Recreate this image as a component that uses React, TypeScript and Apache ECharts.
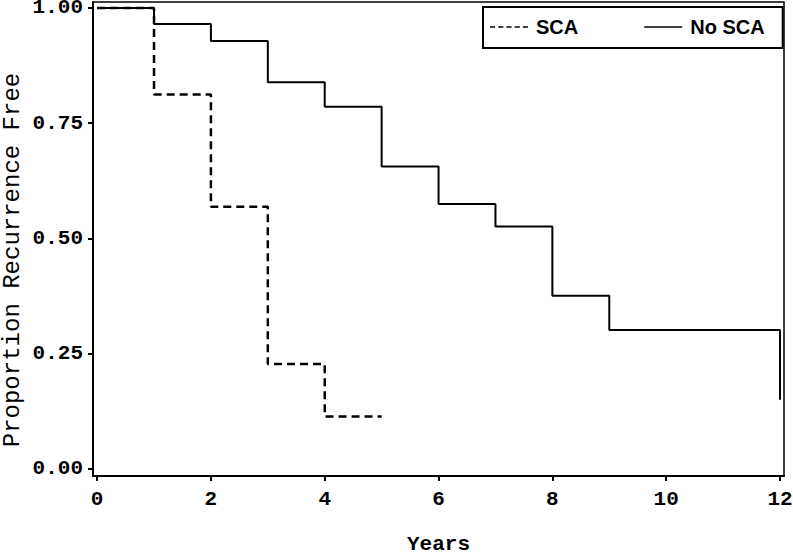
import React, { useEffect, useRef } from "react";
import * as echarts from "echarts";

const scaYears = [0, 1, 2, 3, 4, 5];
const scaValues = [1.0, 0.8125, 0.56875, 0.2275, 0.11375, 0.11375];
const noScaYears = [0, 1, 2, 3, 4, 5, 6, 7, 8, 9, 12];
const noScaValues = [1.0, 0.9655, 0.9286, 0.839, 0.786, 0.656, 0.575, 0.526, 0.376, 0.3015, 0.15];
const xTicks = [0, 2, 4, 6, 8, 10, 12];
const yTicks = [0, 0.25, 0.5, 0.75, 1.0];
const yTitle = "Proportion Recurrence Free";

const dashedIcon =
  "path://M0 0H5V1H0Z M8 0H13V1H8Z M16 0H21V1H16Z M24 0H29V1H24Z M32 0H37V1H32Z";
const solidIcon = "path://M0 0H38V1H0Z";

export default function App() {
  const ref = useRef<HTMLDivElement>(null);
  useEffect(() => {
    if (!ref.current) return;
    const chart = echarts.init(ref.current, null, { renderer: "svg" });
    const mono = "'Liberation Mono', 'DejaVu Sans Mono', monospace";
    const sans = "'Liberation Sans', Arial, sans-serif";
    chart.setOption({
      animation: false,
      backgroundColor: "#ffffff",
      grid: {
        left: 93,
        right: 9,
        top: 2,
        bottom: 79,
        containLabel: false,
        outerBoundsMode: "none",
        show: true,
        borderColor: "#000",
        borderWidth: 1.5,
        backgroundColor: "transparent",
      },
      graphic: [
        {
          type: "text",
          x: 12,
          y: 260,
          rotation: Math.PI / 2,
          style: {
            text: yTitle,
            fontFamily: mono,
            fontSize: 24,
            fill: "#000",
            align: "center",
            verticalAlign: "middle",
          },
        },
      ],
      legend: {
        left: 483,
        top: 7,
        orient: "horizontal",
        padding: [10, 18, 11, 7],
        itemGap: 66,
        itemWidth: 38,
        itemHeight: 1.5,
        symbolKeepAspect: false,
        borderColor: "#000",
        borderWidth: 2,
        backgroundColor: "#fff",
        itemStyle: { color: "#000" },
        textStyle: {
          fontFamily: sans,
          fontWeight: "bold",
          fontSize: 20,
          color: "#000",
          padding: [0, 0, 0, 3],
        },
        data: [
          { name: "SCA", icon: dashedIcon },
          { name: "No SCA", icon: solidIcon },
        ],
      },
      xAxis: {
        type: "value",
        min: -0.072,
        max: 12.07,
        name: "Years",
        nameLocation: "middle",
        nameGap: 60,
        nameTextStyle: {
          fontFamily: mono,
          fontWeight: "bold",
          fontSize: 21,
          lineHeight: 16,
          color: "#000",
        },
        axisLine: { show: true, onZero: false, lineStyle: { color: "#000", width: 2 } },
        axisTick: { show: true, customValues: xTicks, length: 5, lineStyle: { color: "#000", width: 2 } },
        axisLabel: {
          customValues: xTicks,
          margin: 13,
          fontFamily: mono,
          fontWeight: "bold",
          fontSize: 21,
          color: "#000",
          formatter: (v: number) => String(v),
        },
        splitLine: { show: false },
      },
      yAxis: {
        type: "value",
        min: -0.0152,
        max: 1.013,
        axisLine: { show: true, onZero: false, lineStyle: { color: "#000", width: 2 } },
        axisTick: { show: true, customValues: yTicks, length: 5, lineStyle: { color: "#000", width: 2 } },
        axisLabel: {
          customValues: yTicks,
          margin: 10,
          fontFamily: mono,
          fontWeight: "bold",
          fontSize: 21,
          lineHeight: 14,
          color: "#000",
          formatter: (v: number) => v.toFixed(2),
        },
        splitLine: { show: false },
      },
      series: [
        {
          name: "SCA",
          type: "line",
          step: "end",
          symbol: "none",
          showSymbol: false,
          lineStyle: { color: "#000", width: 2.5, type: [8, 5] },
          itemStyle: { color: "#000" },
          data: scaYears.map((x, i) => [x, scaValues[i]]),
        },
        {
          name: "No SCA",
          type: "line",
          step: "end",
          symbol: "none",
          showSymbol: false,
          lineStyle: { color: "#000", width: 2 },
          itemStyle: { color: "#000" },
          data: noScaYears.map((x, i) => [x, noScaValues[i]]),
        },
      ],
    });
    return () => chart.dispose();
  }, []);
  return (
    <div
      ref={ref}
      style={{ position: "fixed", left: 0, top: 0, width: 793, height: 555, background: "#fff" }}
    />
  );
}
